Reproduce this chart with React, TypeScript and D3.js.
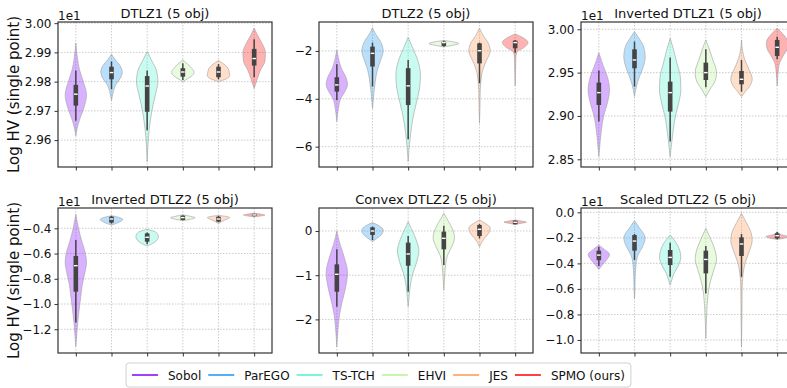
import { useEffect, useRef } from "react";
import * as d3 from "d3";

const methods = ["Sobol", "ParEGO", "TS-TCH", "EHVI", "JES", "SPMO (ours)"];
const colors = ["#8000ff", "#1a96f3", "#4df3ce", "#b3f396", "#ff964f", "#ff0000"];
const titles = [
  "DTLZ1 (5 obj)",
  "DTLZ2 (5 obj)",
  "Inverted DTLZ1 (5 obj)",
  "Inverted DTLZ2 (5 obj)",
  "Convex DTLZ2 (5 obj)",
  "Scaled DTLZ2 (5 obj)",
];

// y limits and ticks per panel
const yLimits = [
  [2.9508, 3.0004],
  [-6.85, -0.79],
  [2.8411, 3.0084],
  [-1.388, -0.239],
  [-2.76, 0.52],
  [-1.102, 0.034],
];
const yTicks = [
  [2.96, 2.97, 2.98, 2.99, 3.0],
  [-6, -4, -2],
  [2.85, 2.9, 2.95, 3.0],
  [-1.2, -1.0, -0.8, -0.6, -0.4],
  [-2, -1, 0],
  [-1.0, -0.8, -0.6, -0.4, -0.2, 0.0],
];
const tickFormats = [".2f", "d", ".2f", ".1f", "d", ".1f"];
const offsetLabels = ["1e1", "", "1e1", "1e1", "", "1e1"];

// inner box per violin: [whisker low, q1, median, q3, whisker high]
const dtlz1Box = [
  [2.9666, 2.9718, 2.9757, 2.9789, 2.9838],
  [2.9774, 2.9808, 2.9831, 2.9851, 2.9869],
  [2.9634, 2.9697, 2.9785, 2.9819, 2.9838],
  [2.9806, 2.9817, 2.9833, 2.9846, 2.9863],
  [2.9808, 2.9815, 2.9833, 2.9851, 2.986],
  [2.9815, 2.9855, 2.9879, 2.9912, 2.9945],
];
const dtlz2Box = [
  [-4.05, -3.7, -3.42, -3.1, -2.56],
  [-3.49, -2.65, -2.1, -1.82, -1.65],
  [-5.69, -4.26, -3.46, -2.72, -2.38],
  [-1.82, -1.79, -1.65, -1.61, -1.57],
  [-3.35, -2.52, -1.99, -1.68, -1.65],
  [-2.07, -1.89, -1.65, -1.57, -1.54],
];
const invDtlz1Box = [
  [2.8935, 2.9127, 2.9269, 2.9385, 2.9523],
  [2.9338, 2.955, 2.9646, 2.9769, 2.9858],
  [2.8704, 2.905, 2.9269, 2.9396, 2.9673],
  [2.9331, 2.9415, 2.95, 2.9615, 2.9769],
  [2.928, 2.9365, 2.9423, 2.9519, 2.9646],
  [2.9654, 2.9692, 2.9792, 2.9877, 2.9915],
];
const invDtlz2Box = [
  [-1.147, -0.902, -0.696, -0.619, -0.492],
  [-0.362, -0.355, -0.326, -0.308, -0.302],
  [-0.524, -0.506, -0.471, -0.44, -0.434],
  [-0.336, -0.334, -0.315, -0.3, -0.296],
  [-0.352, -0.347, -0.326, -0.308, -0.302],
  [-0.306, -0.303, -0.294, -0.286, -0.283],
];
const convexBox = [
  [-1.713, -1.374, -0.98, -0.755, -0.415],
  [-0.204, -0.09, 0, 0.083, 0.098],
  [-1.374, -0.785, -0.52, -0.264, -0.113],
  [-0.77, -0.415, -0.166, -0.015, 0.12],
  [-0.166, -0.113, 0.038, 0.136, 0.158],
  [0.15, 0.151, 0.196, 0.234, 0.24],
];
const scaledBox = [
  [-0.42, -0.375, -0.335, -0.3, -0.27],
  [-0.374, -0.3, -0.225, -0.178, -0.17],
  [-0.505, -0.413, -0.353, -0.295, -0.238],
  [-0.635, -0.478, -0.369, -0.3, -0.264],
  [-0.505, -0.342, -0.248, -0.196, -0.17],
  [-0.21, -0.204, -0.183, -0.165, -0.155],
];

// violin outline per violin: [value, relative half-width]
const dtlz1Shape = [
  [[2.9932, 0], [2.988, 0.15], [2.984, 0.35], [2.98, 0.7], [2.9755, 1], [2.971, 0.75], [2.967, 0.35], [2.964, 0.12], [2.9614, 0]],
  [[2.9894, 0], [2.9875, 0.35], [2.9855, 0.8], [2.9833, 1], [2.981, 0.8], [2.979, 0.4], [2.977, 0.2], [2.9755, 0.1], [2.9735, 0]],
  [[2.9903, 0], [2.987, 0.45], [2.984, 0.85], [2.98, 1], [2.976, 0.8], [2.972, 0.55], [2.968, 0.35], [2.964, 0.2], [2.96, 0.1], [2.9526, 0]],
  [[2.9874, 0], [2.986, 0.45], [2.9845, 0.85], [2.9832, 1.05], [2.982, 0.85], [2.981, 0.45], [2.98, 0]],
  [[2.9872, 0], [2.986, 0.5], [2.9845, 0.9], [2.9832, 1], [2.982, 1.05], [2.981, 0.75], [2.98, 0]],
  [[2.9983, 0], [2.996, 0.3], [2.993, 0.75], [2.99, 1.05], [2.987, 1], [2.984, 0.6], [2.981, 0.3], [2.979, 0.12], [2.9777, 0]],
];
const dtlz2Shape = [
  [[-1.96, 0], [-2.3, 0.15], [-2.7, 0.4], [-3.1, 0.85], [-3.4, 1], [-3.7, 0.75], [-4.0, 0.35], [-4.4, 0.15], [-4.95, 0]],
  [[-1.03, 0], [-1.3, 0.3], [-1.6, 0.75], [-2.0, 1], [-2.4, 0.75], [-2.8, 0.45], [-3.3, 0.25], [-3.8, 0.12], [-4.4, 0]],
  [[-1.43, 0], [-1.9, 0.45], [-2.4, 0.9], [-3.0, 1.15], [-3.6, 1.05], [-4.2, 0.75], [-4.8, 0.45], [-5.4, 0.25], [-6.0, 0.1], [-6.62, 0]],
  [[-1.56, 0], [-1.62, 0.85], [-1.69, 1.4], [-1.76, 0.85], [-1.83, 0]],
  [[-1.05, 0], [-1.35, 0.35], [-1.7, 0.85], [-2.0, 1], [-2.4, 0.65], [-2.8, 0.3], [-3.3, 0.12], [-3.8, 0.06], [-4.4, 0.04], [-5.02, 0]],
  [[-1.29, 0], [-1.45, 0.75], [-1.65, 1.2], [-1.85, 0.85], [-2.05, 0.15], [-2.3, 0.06], [-2.8, 0.04], [-3.46, 0]],
];
const invDtlz1Shape = [
  [[2.973, 0], [2.96, 0.35], [2.945, 0.8], [2.93, 1], [2.915, 0.8], [2.9, 0.45], [2.885, 0.25], [2.87, 0.12], [2.853, 0]],
  [[2.9973, 0], [2.99, 0.4], [2.98, 0.85], [2.968, 1], [2.956, 0.8], [2.945, 0.45], [2.935, 0.2], [2.9223, 0]],
  [[2.9896, 0], [2.975, 0.35], [2.96, 0.65], [2.945, 0.95], [2.93, 1], [2.915, 0.8], [2.9, 0.5], [2.885, 0.3], [2.87, 0.15], [2.853, 0]],
  [[2.9877, 0], [2.978, 0.3], [2.965, 0.65], [2.95, 1], [2.94, 0.85], [2.93, 0.35], [2.9223, 0]],
  [[2.9877, 0], [2.975, 0.1], [2.965, 0.3], [2.955, 0.65], [2.943, 1], [2.935, 0.8], [2.928, 0.35], [2.9223, 0]],
  [[3.0012, 0], [2.995, 0.5], [2.985, 1], [2.978, 0.95], [2.97, 0.6], [2.962, 0.25], [2.952, 0.1], [2.944, 0.05], [2.9346, 0]],
];
const invDtlz2Shape = [
  [[-0.289, 0], [-0.4, 0.25], [-0.5, 0.55], [-0.6, 0.9], [-0.67, 1], [-0.75, 0.85], [-0.85, 0.6], [-0.95, 0.45], [-1.05, 0.3], [-1.15, 0.17], [-1.25, 0.08], [-1.337, 0]],
  [[-0.3, 0], [-0.315, 0.75], [-0.33, 1.05], [-0.35, 0.75], [-0.375, 0]],
  [[-0.408, 0], [-0.43, 0.8], [-0.465, 1.05], [-0.5, 0.85], [-0.525, 0.4], [-0.54, 0]],
  [[-0.293, 0], [-0.305, 0.7], [-0.316, 1.15], [-0.328, 0.7], [-0.34, 0]],
  [[-0.298, 0], [-0.308, 0.85], [-0.315, 1.05], [-0.33, 0.7], [-0.345, 0.35], [-0.362, 0]],
  [[-0.28, 0], [-0.289, 0.7], [-0.295, 1], [-0.301, 0.7], [-0.309, 0]],
];
const convexShape = [
  [[0, 0], [-0.3, 0.3], [-0.6, 0.7], [-0.95, 1], [-1.3, 0.8], [-1.6, 0.5], [-1.9, 0.25], [-2.2, 0.12], [-2.62, 0]],
  [[0.19, 0], [0.12, 0.6], [0.02, 1], [-0.08, 0.85], [-0.16, 0.45], [-0.24, 0]],
  [[0.21, 0], [0, 0.4], [-0.2, 0.75], [-0.45, 1], [-0.7, 0.8], [-0.95, 0.45], [-1.2, 0.22], [-1.45, 0.1], [-1.71, 0]],
  [[0.4, 0], [0.25, 0.35], [0.05, 0.8], [-0.15, 1], [-0.35, 0.75], [-0.55, 0.35], [-0.8, 0.15], [-1.05, 0.07], [-1.336, 0]],
  [[0.25, 0], [0.17, 0.55], [0.07, 1], [-0.05, 0.85], [-0.17, 0.45], [-0.28, 0.15], [-0.355, 0]],
  [[0.25, 0], [0.225, 0.6], [0.2, 1.05], [0.175, 0.6], [0.15, 0]],
];
const scaledShape = [
  [[-0.255, 0], [-0.29, 0.5], [-0.33, 1], [-0.37, 0.75], [-0.41, 0.35], [-0.447, 0]],
  [[-0.065, 0], [-0.12, 0.45], [-0.2, 1], [-0.27, 0.75], [-0.33, 0.35], [-0.4, 0.15], [-0.5, 0.07], [-0.6, 0.04], [-0.675, 0]],
  [[-0.178, 0], [-0.23, 0.5], [-0.3, 0.9], [-0.35, 1], [-0.42, 0.75], [-0.48, 0.35], [-0.53, 0.15], [-0.57, 0]],
  [[-0.125, 0], [-0.2, 0.4], [-0.28, 0.8], [-0.37, 1], [-0.45, 0.75], [-0.55, 0.4], [-0.65, 0.2], [-0.8, 0.08], [-0.988, 0]],
  [[-0.008, 0], [-0.08, 0.45], [-0.16, 0.9], [-0.22, 1], [-0.3, 0.75], [-0.38, 0.4], [-0.48, 0.15], [-0.6, 0.06], [-0.8, 0.04], [-1.054, 0]],
  [[-0.15, 0], [-0.175, 0.4], [-0.19, 1.05], [-0.205, 0.5], [-0.212, 0]],
];

const boxes = [dtlz1Box, dtlz2Box, invDtlz1Box, invDtlz2Box, convexBox, scaledBox];
const shapes = [dtlz1Shape, dtlz2Shape, invDtlz1Shape, invDtlz2Shape, convexShape, scaledShape];

const W = 787;
const H = 388;
const colLeft = [58, 319, 581];
const rowTop = [22, 208];
const pw = 214;
const ph = 145;
const font = "DejaVu Sans, sans-serif";

export default function App() {
  const ref = useRef<SVGSVGElement | null>(null);

  useEffect(() => {
    if (!ref.current) return;
    const svg = d3.select(ref.current);
    svg.selectAll("*").remove();

    const x = d3.scalePoint<string>().domain(methods).range([0, pw]).padding(0.5);
    const halfW = x.step() * 0.3;

    titles.forEach((title, p) => {
      const g = svg
        .append("g")
        .attr("transform", `translate(${colLeft[p % 3]},${rowTop[Math.floor(p / 3)]})`);
      const y = d3.scaleLinear(yLimits[p], [ph, 0]);

      // grid
      g.append("g")
        .selectAll("line")
        .data(yTicks[p])
        .join("line")
        .attr("x1", 0)
        .attr("x2", pw)
        .attr("y1", (d) => y(d))
        .attr("y2", (d) => y(d))
        .attr("stroke", "#b0b0b0")
        .attr("stroke-width", 0.8)
        .attr("stroke-dasharray", "1.5,1.5")
        .attr("opacity", 0.8);
      g.append("g")
        .selectAll("line")
        .data(methods)
        .join("line")
        .attr("x1", (d) => x(d)!)
        .attr("x2", (d) => x(d)!)
        .attr("y1", 0)
        .attr("y2", ph)
        .attr("stroke", "#b0b0b0")
        .attr("stroke-width", 0.8)
        .attr("stroke-dasharray", "1.5,1.5")
        .attr("opacity", 0.8);

      // violins
      methods.forEach((m, i) => {
        const cx = x(m)!;
        const area = d3
          .area<number[]>()
          .y((d) => y(d[0]))
          .x0((d) => cx - d[1] * halfW)
          .x1((d) => cx + d[1] * halfW)
          .curve(d3.curveMonotoneY);
        g.append("path")
          .attr("d", area(shapes[p][i]))
          .attr("fill", colors[i])
          .attr("fill-opacity", 0.3)
          .attr("stroke", "#a0a0a0")
          .attr("stroke-opacity", 0.6)
          .attr("stroke-width", 1);

        const [lo, q1, med, q3, hi] = boxes[p][i];
        g.append("line")
          .attr("x1", cx)
          .attr("x2", cx)
          .attr("y1", y(hi))
          .attr("y2", y(lo))
          .attr("stroke", "#444")
          .attr("stroke-width", 1.5);
        g.append("rect")
          .attr("x", cx - 2.3)
          .attr("width", 4.6)
          .attr("y", y(q3))
          .attr("height", Math.max(1, y(q1) - y(q3)))
          .attr("fill", "#444");
        g.append("rect")
          .attr("x", cx - 1.8)
          .attr("width", 3.6)
          .attr("y", y(med) - 0.7)
          .attr("height", 1.4)
          .attr("fill", "white");
      });

      // frame
      g.append("rect")
        .attr("width", pw)
        .attr("height", ph)
        .attr("fill", "none")
        .attr("stroke", "#333")
        .attr("stroke-width", 1.2);

      // axes
      const fmt = d3.format(tickFormats[p]);
      const yAxis = g
        .append("g")
        .call(
          d3
            .axisLeft(y)
            .tickValues(yTicks[p])
            .tickSize(3.5)
            .tickPadding(3)
            .tickFormat((d) => fmt(d as number))
        );
      yAxis.select(".domain").remove();
      yAxis.selectAll("line").attr("stroke", "#333");
      yAxis
        .selectAll("text")
        .attr("font-family", font)
        .attr("font-size", 12)
        .attr("fill", "#111");

      const xAxis = g
        .append("g")
        .attr("transform", `translate(0,${ph})`)
        .call(d3.axisBottom(x).tickSize(3.5).tickFormat(() => ""));
      xAxis.select(".domain").remove();
      xAxis.selectAll("line").attr("stroke", "#333");

      g.append("text")
        .attr("x", pw / 2)
        .attr("y", -4)
        .attr("text-anchor", "middle")
        .attr("font-family", font)
        .attr("font-size", 13)
        .attr("fill", "#111")
        .text(title);

      if (offsetLabels[p]) {
        g.append("text")
          .attr("x", 0)
          .attr("y", -2)
          .attr("font-family", font)
          .attr("font-size", 12)
          .attr("fill", "#111")
          .text(offsetLabels[p]);
      }

      if (p % 3 === 0) {
        g.append("text")
          .attr("transform", `translate(-39.5,${ph / 2}) rotate(-90)`)
          .attr("text-anchor", "middle")
          .attr("font-family", font)
          .attr("font-size", 15)
          .attr("fill", "#111")
          .text("Log HV (single point)");
      }
    });

    // legend
    const leg = svg.append("g");
    const legBox = leg
      .append("rect")
      .attr("x", 126)
      .attr("y", 363)
      .attr("height", 24)
      .attr("rx", 3)
      .attr("fill", "white")
      .attr("stroke", "#d0d0d0")
      .attr("stroke-width", 1);
    let lx = 132;
    methods.forEach((m, i) => {
      leg
        .append("line")
        .attr("x1", lx)
        .attr("x2", lx + 26)
        .attr("y1", 375)
        .attr("y2", 375)
        .attr("stroke", colors[i])
        .attr("stroke-width", 1.5);
      const t = leg
        .append("text")
        .attr("x", lx + 36)
        .attr("y", 379.5)
        .attr("font-family", font)
        .attr("font-size", 12)
        .attr("fill", "#111")
        .text(m);
      const tw = (t.node() as SVGTextElement).getComputedTextLength();
      lx = lx + 36 + tw + 7;
    });
    legBox.attr("width", lx - 126 - 1);
  }, []);

  return (
    <svg
      ref={ref}
      width={W}
      height={H}
      style={{ position: "absolute", left: 0, top: 0, background: "white" }}
    />
  );
}
